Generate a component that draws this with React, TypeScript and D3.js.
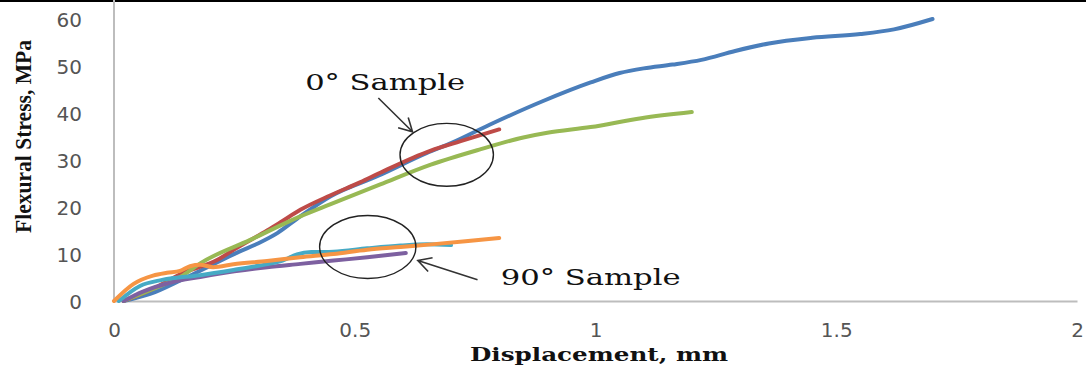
import { useEffect, useRef } from 'react';
import * as d3 from 'd3';

const WIDTH = 1086;
const HEIGHT = 376;

// 0° samples
const blueX = [0.02, 0.075, 0.14, 0.2, 0.26, 0.3, 0.34, 0.38, 0.45, 0.55, 0.65, 0.7, 0.78, 0.89, 0.99, 1.05, 1.1, 1.16, 1.22, 1.29, 1.36, 1.45, 1.55, 1.62, 1.7];
const blueY = [0, 1.5, 4.5, 7.5, 10.5, 12.3, 14.5, 17.5, 22.3, 26.7, 31.5, 33.6, 37.5, 42.5, 46.5, 48.5, 49.5, 50.3, 51.3, 53.2, 54.8, 56, 56.8, 57.8, 60];

const redX = [0.02, 0.075, 0.144, 0.214, 0.25, 0.318, 0.345, 0.387, 0.45, 0.512, 0.553, 0.658, 0.72, 0.8];
const redY = [0, 2.3, 6, 8.7, 11, 15, 16.7, 19.4, 22.5, 25.3, 27.3, 32, 34, 36.5];

const greenX = [0.02, 0.08, 0.144, 0.179, 0.283, 0.387, 0.45, 0.553, 0.658, 0.762, 0.85, 0.9, 0.99, 1.095, 1.2];
const greenY = [0, 2.5, 5.5, 8, 13, 18, 20.6, 24.8, 29, 32.3, 34.8, 35.8, 37, 38.9, 40.2];

// 90° samples
const purpleX = [0.02, 0.06, 0.12, 0.179, 0.25, 0.318, 0.387, 0.456, 0.526, 0.606];
const purpleY = [0, 2, 4, 5.1, 6.3, 7.2, 7.9, 8.6, 9.3, 10.2];

const cyanX = [0.01, 0.054, 0.1, 0.179, 0.248, 0.3, 0.35, 0.38, 0.41, 0.456, 0.526, 0.595, 0.65, 0.7];
const cyanY = [0, 3.2, 4.5, 5.5, 6.6, 7.5, 8.6, 9.9, 10.4, 10.5, 11.2, 11.8, 12.1, 11.9];

const orangeX = [0, 0.04, 0.081, 0.11, 0.137, 0.158, 0.179, 0.206, 0.248, 0.318, 0.387, 0.456, 0.526, 0.595, 0.665, 0.73, 0.8];
const orangeY = [0, 3.6, 5.4, 6, 6.4, 7.4, 7.7, 7.2, 7.8, 8.5, 9.3, 10, 10.9, 11.5, 12.1, 12.7, 13.4];

const xTicks = [0, 0.5, 1, 1.5, 2];
const yTicks = [0, 10, 20, 30, 40, 50, 60];

const seriesColors = ['#4A7EBB', '#BE4B48', '#98B954', '#7D60A0', '#46AAC5', '#F69544'];

// annotations, in data units
const labels = [
  { text: '0° Sample', x: 0.397, y: 44.9, len: 160 },
  { text: '90° Sample', x: 0.803, y: 3.4, len: 180 },
];
const rings = [
  { cx: 0.691, cy: 31.1, rx: 0.097, ry: 6.7 },
  { cx: 0.527, cy: 11.5, rx: 0.1, ry: 6.7 },
];
const arrows = [
  { x1: 0.549, y1: 43.2, x2: 0.62, y2: 36.0 },
  { x1: 0.755, y1: 4.5, x2: 0.631, y2: 8.6 },
];

export default function App() {
  const svgRef = useRef<SVGSVGElement>(null);

  useEffect(() => {
    if (!svgRef.current) return;
    const svg = d3.select(svgRef.current);
    svg.selectAll('*').remove();

    const x = d3.scaleLinear().domain([0, 2]).range([114, 1077]);
    const y = d3.scaleLinear().domain([0, 60]).range([301, 19]);

    svg.append('rect').attr('width', WIDTH).attr('height', HEIGHT).attr('fill', '#fff');
    // black strip along top edge (crop border)
    svg.append('rect').attr('width', WIDTH).attr('height', 2).attr('fill', '#000');

    // axes
    const xAxis = d3.axisBottom(x).tickValues(xTicks).tickSize(0).tickFormat(d3.format('~g') as any);
    const gx = svg.append('g').attr('transform', `translate(0,${y(0)})`).call(xAxis);
    gx.select('.domain').attr('stroke', '#bdbdbd').attr('stroke-width', 2);
    gx.selectAll('text')
      .attr('y', 29)
      .attr('dy', '0.35em')
      .style('font-family', '"DejaVu Sans", Verdana, sans-serif')
      .style('font-size', '20px')
      .style('fill', '#555');

    const yAxis = d3.axisLeft(y).tickValues(yTicks).tickSize(0);
    const gy = svg.append('g').attr('transform', `translate(${x(0)},0)`).call(yAxis);
    gy.select('.domain').remove();
    gy.selectAll('text')
      .attr('x', -32)
      .attr('dy', '0.35em')
      .style('font-family', '"DejaVu Sans", Verdana, sans-serif')
      .style('font-size', '20px')
      .style('fill', '#555');
    svg.append('line')
      .attr('x1', x(0)).attr('x2', x(0))
      .attr('y1', 0).attr('y2', y(0))
      .attr('stroke', '#bdbdbd').attr('stroke-width', 2);

    // series
    const series = [
      { xs: blueX, ys: blueY },
      { xs: redX, ys: redY },
      { xs: greenX, ys: greenY },
      { xs: purpleX, ys: purpleY },
      { xs: cyanX, ys: cyanY },
      { xs: orangeX, ys: orangeY },
    ];
    const line = d3.line<[number, number]>()
      .x(d => x(d[0]))
      .y(d => y(d[1]))
      .curve(d3.curveMonotoneX);

    series.forEach((s, i) => {
      const pts = s.xs.map((v, j) => [v, s.ys[j]] as [number, number]);
      svg.append('path')
        .datum(pts)
        .attr('fill', 'none')
        .attr('stroke', seriesColors[i])
        .attr('stroke-width', 4)
        .attr('stroke-linecap', 'round')
        .attr('stroke-linejoin', 'round')
        .attr('d', line);
    });

    // annotations
    rings.forEach(r => {
      svg.append('ellipse')
        .attr('cx', x(r.cx)).attr('cy', y(r.cy))
        .attr('rx', x(r.rx) - x(0)).attr('ry', y(0) - y(r.ry))
        .attr('fill', 'none')
        .attr('stroke', '#222')
        .attr('stroke-width', 1.4);
    });

    arrows.forEach(a => {
      const px1 = x(a.x1), py1 = y(a.y1), px2 = x(a.x2), py2 = y(a.y2);
      const ang = Math.atan2(py2 - py1, px2 - px1);
      const head = 15;
      const path = d3.path();
      path.moveTo(px1, py1);
      path.lineTo(px2, py2);
      path.moveTo(px2 - head * Math.cos(ang - 0.5), py2 - head * Math.sin(ang - 0.5));
      path.lineTo(px2, py2);
      path.lineTo(px2 - head * Math.cos(ang + 0.5), py2 - head * Math.sin(ang + 0.5));
      svg.append('path')
        .attr('d', path.toString())
        .attr('fill', 'none')
        .attr('stroke', '#333')
        .attr('stroke-width', 1.6);
    });

    labels.forEach(l => {
      svg.append('text')
        .attr('x', x(l.x)).attr('y', y(l.y))
        .attr('textLength', l.len)
        .attr('lengthAdjust', 'spacingAndGlyphs')
        .style('font-family', '"DejaVu Serif", serif')
        .style('font-size', '23px')
        .style('fill', '#111')
        .text(l.text);
    });

    // axis titles
    svg.append('text')
      .attr('transform', `translate(31,${(40 + 233) / 2}) rotate(-90)`)
      .attr('text-anchor', 'middle')
      .attr('textLength', 193)
      .attr('lengthAdjust', 'spacingAndGlyphs')
      .style('font-family', '"Liberation Serif", serif')
      .style('font-weight', 'bold')
      .style('font-size', '23px')
      .style('fill', '#111')
      .text('Flexural Stress, MPa');

    svg.append('text')
      .attr('x', 599).attr('y', 361)
      .attr('text-anchor', 'middle')
      .attr('textLength', 258)
      .attr('lengthAdjust', 'spacingAndGlyphs')
      .style('font-family', '"DejaVu Serif", serif')
      .style('font-weight', 'bold')
      .style('font-size', '19px')
      .style('fill', '#111')
      .text('Displacement, mm');
  }, []);

  return (
    <svg
      ref={svgRef}
      width={WIDTH}
      height={HEIGHT}
      style={{ position: 'absolute', left: 0, top: 0, display: 'block' }}
    />
  );
}
